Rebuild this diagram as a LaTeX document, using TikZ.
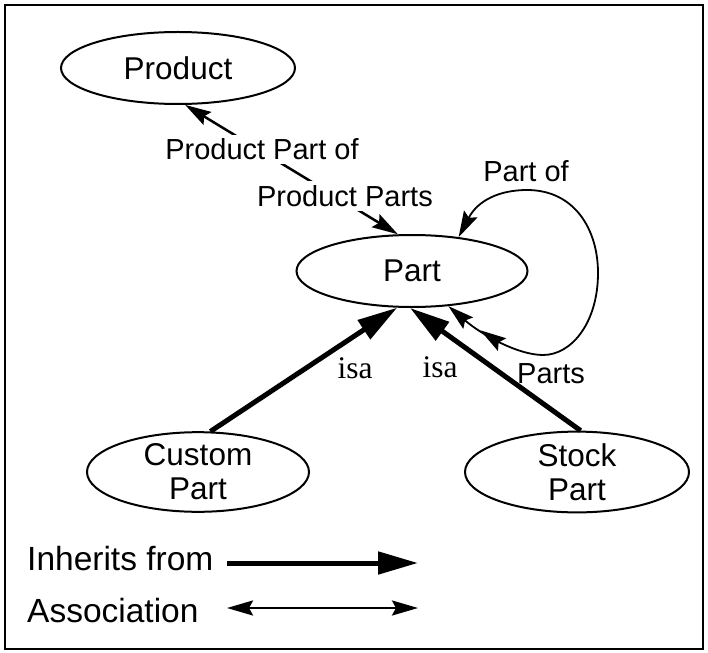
\documentclass[tikz,border=0pt]{standalone}
\usepackage{fontspec}
\setmainfont{Liberation Sans}
\newfontfamily\isafont{Liberation Serif}
\usetikzlibrary{shapes.geometric,arrows.meta,decorations.markings}
\tikzset{
  classnode/.style={ellipse, draw, line width=2pt, inner sep=0pt, align=center,
    font=\fontsize{31.5}{34}\selectfont},
  AssocTip/.tip={Stealth[length=26pt,width=15pt,inset=4pt]},
  InhTip/.tip={Triangle[length=40pt,width=22pt]},
  assoc/.style={line width=2.5pt, {AssocTip}-{AssocTip}},
  selfassoc/.style={line width=1.8pt, {AssocTip}-{AssocTip}},
  inherit/.style={line width=5pt, -{InhTip}},
  lbl/.style={font=\fontsize{29}{31}\selectfont, inner sep=0pt},
  isalbl/.style={font=\isafont\fontsize{31.5}{34}\selectfont, inner sep=0pt},
  legendlbl/.style={font=\fontsize{33.5}{36}\selectfont, inner sep=0pt},
}
\begin{document}
\begin{tikzpicture}[x=1pt, y=-1pt]
\useasboundingbox (0,0) rectangle (708,652);
\draw[line width=2.5pt] (5,5) rectangle (703,649);

% classes
\node[classnode, minimum width=234pt, minimum height=72pt] (product) at (178,68) {Product};
\node[classnode, minimum width=231pt, minimum height=72pt] (part) at (412,271) {Part};
\node[classnode, minimum width=222pt, minimum height=75pt] (custom) at (198,472) {Custom\\Part};
\node[classnode, minimum width=224pt, minimum height=75pt] (stock) at (577,472) {Stock\\Part};

% association Product -- Part
\draw[assoc] (product.-79) --
  node[lbl, fill=white, inner sep=4pt, pos=0.361, yshift=2pt] (ppof) {Product Part of}
  node[lbl, fill=white, inner sep=4pt, pos=0.751, yshift=6pt] (pparts) {Product Parts}
  (part.111);

% self association of Part
\draw[selfassoc, postaction={decorate, decoration={markings,
    mark=at position -40pt with {\arrow{AssocTip}}}}]
  (part.36) .. controls (478,200) and (500,190) .. (527,190)
  .. controls (575,190) and (598,230) .. (598,273)
  .. controls (598,322) and (572,355) .. (543,355)
  .. controls (518,355) and (482,335) .. (part.-44);
\node[lbl, anchor=base] (partof) at (526,182) {Part of};
\node[lbl, anchor=base] (parts) at (551,383) {Parts};

% inheritance
\draw[inherit] (custom.73) -- (part.-112);
\draw[inherit] (stock.85) -- (part.-93);
\node[isalbl, anchor=base] (isa1) at (355,378) {isa};
\node[isalbl, anchor=base] (isa2) at (440,377) {isa};

% legend
\node[legendlbl, anchor=base west] (leginh) at (27,570) {Inherits from};
\node[legendlbl, anchor=base west] (legass) at (27,622) {Association};
\coordinate (ia) at (227,563);
\coordinate (ib) at (418,563);
\coordinate (aa) at (227,608);
\coordinate (ab) at (418,608);
\draw[inherit] (ia) -- (ib);
\draw[assoc] (aa) -- (ab);
\end{tikzpicture}
\end{document}
